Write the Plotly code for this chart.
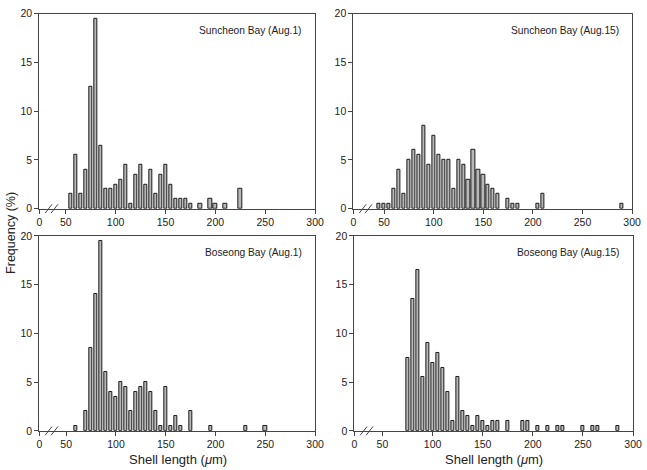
import plotly.graph_objects as go

W, H = 647, 470

# ---- data (shell length bins in µm, frequency in %) ----
sa1_x = [55, 60, 65, 70, 75, 80, 85, 90, 95, 100, 105, 110, 115, 120, 125, 130, 135,
         140, 145, 150, 155, 160, 165, 170, 175, 185, 195, 200, 210, 225]
sa1_y = [1.5, 5.5, 1.5, 4, 12.5, 19.5, 6.5, 2, 2, 2.5, 3, 4.5, 0.5, 3.5, 4.5, 2.5, 4,
         1.5, 3.5, 4.5, 2.5, 1, 1, 1, 0.5, 0.5, 1, 0.5, 0.5, 2]

sa15_x = [45, 50, 55, 60, 65, 70, 75, 80, 85, 90, 95, 100, 105, 110, 115, 120, 125,
          130, 135, 140, 145, 150, 155, 160, 165, 175, 180, 185, 205, 210, 290]
sa15_y = [0.5, 0.5, 0.5, 2, 4, 1.5, 5, 6, 5.5, 8.5, 4.5, 7.5, 5.5, 5, 5, 2, 5,
          4.5, 3, 6, 4, 3.5, 2.5, 2, 1.5, 1, 0.5, 0.5, 0.5, 1.5, 0.5]

ba1_x = [60, 70, 75, 80, 85, 90, 95, 100, 105, 110, 115, 120, 125, 130, 135, 140,
         145, 150, 155, 160, 165, 175, 195, 230, 250]
ba1_y = [0.5, 2, 8.5, 14, 19.5, 6, 4, 3.5, 5, 4.5, 2, 4, 4.5, 5, 4, 2,
         0.5, 4.5, 0.5, 1.5, 0.5, 2, 0.5, 0.5, 0.5]

ba15_x = [75, 80, 85, 90, 95, 100, 105, 110, 115, 120, 125, 130, 135, 140, 145, 150,
          155, 160, 165, 175, 190, 195, 205, 215, 225, 230, 250, 260, 265, 285]
ba15_y = [7.5, 13.5, 16.5, 5.5, 9, 7, 8, 6.5, 4, 1, 5.5, 2, 1.5, 0.5, 1.5, 1,
          0.5, 1, 1, 1, 1, 1, 0.5, 0.5, 0.5, 0.5, 0.5, 0.5, 0.5, 0.5]

titles = ["Suncheon Bay (Aug.1)", "Suncheon Bay (Aug.15)",
          "Boseong Bay (Aug.1)", "Boseong Bay (Aug.15)"]
x_tick_vals = [50, 100, 150, 200, 250, 300]
x_tick_text = ["50", "100", "150", "200", "250", "300"]
y_tick_vals = [0, 5, 10, 15, 20]

series = [(sa1_x, sa1_y), (sa15_x, sa15_y), (ba1_x, ba1_y), (ba15_x, ba15_y)]

# panel boxes in pixels: left, right, top, bottom, x-axis start value (broken axis)
panels = [
    (37, 318, 8, 208, 23.5),
    (357, 641, 8, 208, 19.0),
    (37, 318, 236, 436, 23.0),
    (358, 642, 236, 436, 22.0),
]

FONT = "Liberation Sans, Arial, sans-serif"
TXT = "#222222"
AX = "#444444"

fig = go.Figure()
layout = dict(
    width=W, height=H,
    margin=dict(l=0, r=0, t=0, b=0),
    paper_bgcolor="white", plot_bgcolor="white",
    showlegend=False,
    font=dict(family=FONT, color=TXT),
    bargap=0,
)
shapes = []
annotations = []

for i, ((xs, ys), (L, R, T, B, x0)) in enumerate(zip(series, panels)):
    n = i + 1
    xa = "x" if n == 1 else f"x{n}"
    ya = "y" if n == 1 else f"y{n}"
    fig.add_trace(go.Bar(
        x=xs, y=ys, width=3.2,
        marker=dict(color="#b8b8b8", line=dict(color="#1a1a1a", width=1)),
        xaxis=xa, yaxis=ya,
    ))
    layout["xaxis" if n == 1 else f"xaxis{n}"] = dict(
        domain=[L / W, R / W], anchor=ya, range=[x0, 300],
        tickvals=[x0] + x_tick_vals, ticktext=["0"] + x_tick_text,
        ticks="outside", ticklen=4, tickcolor=AX, tickwidth=1,
        showline=True, linecolor=AX, linewidth=1, mirror=True,
        showgrid=False, zeroline=False,
        tickfont=dict(size=10.5, family=FONT, color=TXT),
    )
    layout["yaxis" if n == 1 else f"yaxis{n}"] = dict(
        domain=[1 - B / H, 1 - T / H], anchor=xa, range=[0, 20],
        tickvals=y_tick_vals,
        ticks="outside", ticklen=4, tickcolor=AX, tickwidth=1,
        showline=True, linecolor=AX, linewidth=1, mirror=True,
        showgrid=False, zeroline=False,
        tickfont=dict(size=10.5, family=FONT, color=TXT),
    )
    # axis-break marks "//"
    for off in (6, 12):
        shapes.append(dict(
            type="line", xref="paper", yref="paper",
            x0=(L + off) / W, y0=1 - (B + 4.5) / H,
            x1=(L + off + 7) / W, y1=1 - (B - 4.5) / H,
            line=dict(color=AX, width=1),
        ))
    annotations.append(dict(
        text=titles[i], xref="paper", yref="paper",
        x=(R - 11) / W, y=1 - (T + 17) / H,
        xanchor="right", yanchor="middle", showarrow=False,
        font=dict(size=10.2, family=FONT, color=TXT),
    ))

# axis titles
for cx in (178, 500):
    annotations.append(dict(
        text="Shell length (<i>μ</i>m)", xref="paper", yref="paper",
        x=cx / W, y=1 - 465 / H, xanchor="center", yanchor="middle",
        showarrow=False, font=dict(size=13, family=FONT, color=TXT),
    ))
annotations.append(dict(
    text="Frequency (%)", xref="paper", yref="paper",
    x=8 / W, y=1 - 233 / H, xanchor="center", yanchor="middle",
    textangle=-90, showarrow=False,
    font=dict(size=12.5, family=FONT, color=TXT),
))

layout["shapes"] = shapes
layout["annotations"] = annotations
fig.update_layout(**layout)
fig.write_html("out.html")
